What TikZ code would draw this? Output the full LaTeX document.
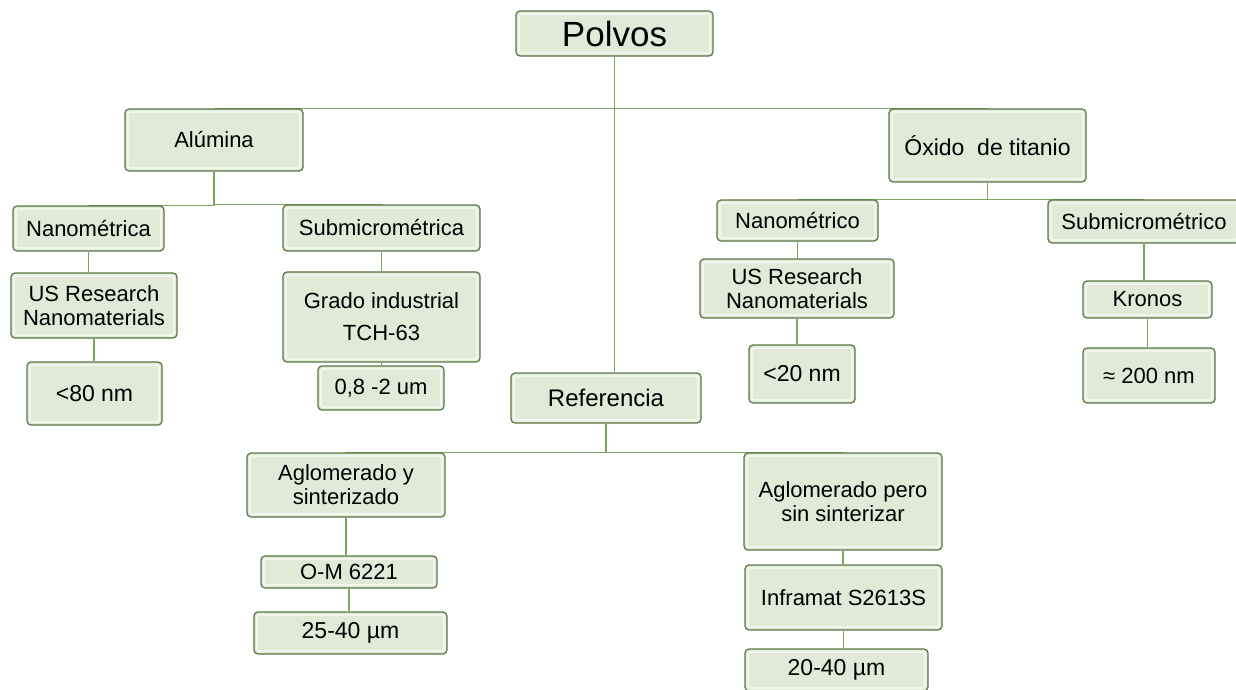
\documentclass[tikz,border=0pt]{standalone}
\usepackage{fontspec}
\setmainfont{Liberation Sans}
\usetikzlibrary{backgrounds}
\definecolor{boxfill}{RGB}{224,234,214}
\definecolor{boxline}{RGB}{88,116,70}
\definecolor{connline}{RGB}{122,168,92}
\begin{document}
\begin{tikzpicture}[x=1pt,y=-1pt,
    box/.style={draw=boxline,fill=boxfill,line width=1.2pt,rounded corners=4pt,
      inner sep=0pt,align=center,font=\fontsize{22}{24}\selectfont,
      path picture={\draw[white,opacity=0.55,line width=2pt,rounded corners=2pt]
        ([shift={(3pt,-3pt)}]path picture bounding box.north west) rectangle
        ([shift={(-3pt,3pt)}]path picture bounding box.south east);}},
    big/.style={font=\fontsize{23}{25}\selectfont},
    conn/.style={draw=connline,line width=1.6pt}]
  \useasboundingbox (0,0) rectangle (1236,690);
  %% top
  \node[box,minimum width=197pt,minimum height=45pt,font=\fontsize{35}{40}\selectfont] (polvos) at (614.5,33.5) {Polvos};
  %% alumina branch
  \node[box,minimum width=178pt,minimum height=62pt] (alu) at (214,140) {Alúmina};
  \node[box,minimum width=151pt,minimum height=45pt] (nanoA) at (88.5,228.5) {Nanométrica};
  \node[box,minimum width=166pt,minimum height=65pt] (usA) at (94,305.5) {US Research\\Nanomaterials};
  \node[box,big,minimum width=135pt,minimum height=63pt] (n80) at (94.5,393.5) {<80 nm};
  \node[box,minimum width=197pt,minimum height=46pt] (subA) at (381.5,228) {Submicrométrica};
  \node[box,minimum width=197pt,minimum height=90pt] (grado) at (381.5,317) {Grado industrial\\[8pt]TCH-63};
  \node[box,minimum width=126pt,minimum height=44pt] (n08) at (381,388) {0,8 -2 um};
  %% titanio branch
  \node[box,big,minimum width=197pt,minimum height=73pt] (oxi) at (987.5,145.5) {Óxido\ \ de titanio};
  \node[box,minimum width=161pt,minimum height=41pt] (nanoO) at (797.5,220.5) {Nanométrico};
  \node[box,minimum width=194pt,minimum height=59pt] (usO) at (797,288.5) {US Research\\Nanomaterials};
  \node[box,big,minimum width=106pt,minimum height=58pt] (n20) at (802,374) {<20 nm};
  \node[box,minimum width=192pt,minimum height=43pt] (subO) at (1144,221.5) {Submicrométrico};
  \node[box,minimum width=129pt,minimum height=37pt] (kronos) at (1147.5,299.5) {Kronos};
  \node[box,minimum width=132pt,minimum height=55pt] (n200) at (1149,375.5) {≈ 200 nm};
  %% referencia branch
  \node[box,minimum width=190pt,minimum height=50pt,font=\fontsize{24}{26}\selectfont] (ref) at (606,398) {Referencia};
  \node[box,minimum width=198pt,minimum height=64pt] (aglS) at (346,485) {Aglomerado y\\sinterizado};
  \node[box,minimum width=176pt,minimum height=32pt] (om) at (349,572) {O-M 6221};
  \node[box,big,minimum width=193pt,minimum height=42pt] (n2540) at (350.5,633) {25-40 µm};
  \node[box,minimum width=198pt,minimum height=97pt] (aglP) at (843,501.5) {Aglomerado pero\\sin sinterizar};
  \node[box,minimum width=197pt,minimum height=65pt] (infra) at (843.5,597.5) {Inframat S2613S};
  \node[box,big,minimum width=183pt,minimum height=42pt] (n2040) at (836.5,670) {20-40 µm};
  %% connectors
  \begin{scope}[on background layer]
    \draw[conn] (polvos.south) |- (alu.north);
    \draw[conn] (polvos.south) |- (oxi.north);
    \draw[conn] (polvos.south) -- (polvos.south |- ref.north);
    \foreach \p/\c in {alu/nanoA,alu/subA,oxi/nanoO,oxi/subO,ref/aglS,ref/aglP}
      \draw[conn] (\p.south) |- (\c.north);
    \foreach \p/\c in {nanoA/usA,usA/n80,subA/grado,grado/n08,nanoO/usO,usO/n20,
        subO/kronos,kronos/n200,aglS/om,om/n2540,aglP/infra,infra/n2040}
      \draw[conn] (\p.south) -- (\p.south |- \c.north);
  \end{scope}
\end{tikzpicture}
\end{document}
